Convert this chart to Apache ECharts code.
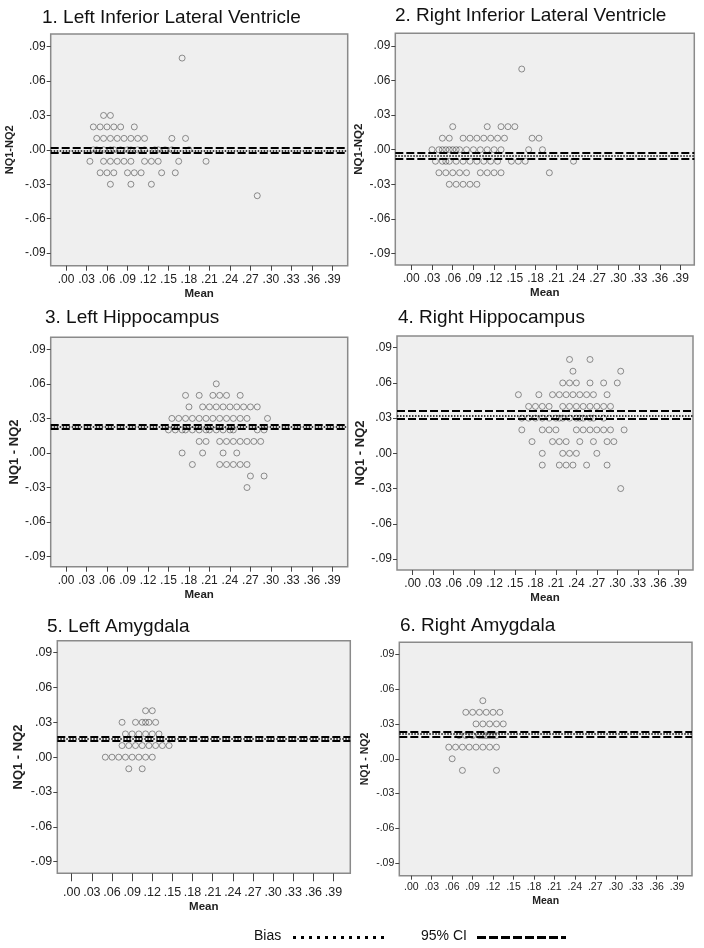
<!DOCTYPE html>
<html>
<head>
<meta charset="utf-8">
<script src="https://cdn.jsdelivr.net/npm/echarts@6/dist/echarts.min.js"></script>
<style>
html,body{margin:0;padding:0;background:#fff;}
#chart{width:704px;height:948px;}
</style>
</head>
<body>
<div id="chart"></div>
<script>
// ---------- DATA ----------
const titles = ['1. Left Inferior Lateral Ventricle', '2. Right Inferior Lateral Ventricle',
  '3. Left Hippocampus', '4. Right Hippocampus', '5. Left Amygdala', '6. Right Amygdala'];
const yNames = ['NQ1-NQ2', 'NQ1-NQ2', 'NQ1 - NQ2', 'NQ1 - NQ2', 'NQ1 - NQ2', 'NQ1 - NQ2'];
const xTicks = [0, 0.03, 0.06, 0.09, 0.12, 0.15, 0.18, 0.21, 0.24, 0.27, 0.30, 0.33, 0.36, 0.39];
const yTicks = [-0.09, -0.06, -0.03, 0, 0.03, 0.06, 0.09];

// [mean, difference] pairs
const leftILV = [
  [0.17, 0.08],
  [0.055, 0.03], [0.065, 0.03],
  [0.04, 0.02], [0.05, 0.02], [0.06, 0.02], [0.07, 0.02], [0.08, 0.02], [0.10, 0.02],
  [0.045, 0.01], [0.055, 0.01], [0.065, 0.01], [0.075, 0.01], [0.085, 0.01], [0.095, 0.01], [0.105, 0.01], [0.115, 0.01], [0.155, 0.01], [0.175, 0.01],
  [0.04, 0], [0.045, 0], [0.055, 0], [0.065, 0], [0.07, 0], [0.08, 0], [0.09, 0], [0.095, 0], [0.105, 0], [0.115, 0], [0.13, 0], [0.135, 0], [0.145, 0], [0.155, 0], [0.18, 0],
  [0.035, -0.01], [0.055, -0.01], [0.065, -0.01], [0.075, -0.01], [0.085, -0.01], [0.095, -0.01], [0.115, -0.01], [0.125, -0.01], [0.135, -0.01], [0.165, -0.01], [0.205, -0.01],
  [0.05, -0.02], [0.06, -0.02], [0.07, -0.02], [0.09, -0.02], [0.10, -0.02], [0.11, -0.02], [0.14, -0.02], [0.16, -0.02],
  [0.065, -0.03], [0.095, -0.03], [0.125, -0.03],
  [0.28, -0.04]
];
const rightILV = [
  [0.16, 0.07],
  [0.06, 0.02], [0.11, 0.02], [0.13, 0.02], [0.14, 0.02], [0.15, 0.02],
  [0.045, 0.01], [0.055, 0.01], [0.075, 0.01], [0.085, 0.01], [0.095, 0.01], [0.105, 0.01], [0.115, 0.01], [0.125, 0.01], [0.135, 0.01], [0.175, 0.01], [0.185, 0.01],
  [0.03, 0], [0.04, 0], [0.045, 0], [0.05, 0], [0.055, 0], [0.06, 0], [0.065, 0], [0.07, 0], [0.08, 0], [0.09, 0], [0.10, 0], [0.11, 0], [0.12, 0], [0.13, 0], [0.17, 0], [0.19, 0],
  [0.035, -0.01], [0.045, -0.01], [0.05, -0.01], [0.055, -0.01], [0.065, -0.01], [0.075, -0.01], [0.085, -0.01], [0.095, -0.01], [0.105, -0.01], [0.115, -0.01], [0.125, -0.01], [0.145, -0.01], [0.155, -0.01], [0.165, -0.01], [0.235, -0.01],
  [0.04, -0.02], [0.05, -0.02], [0.06, -0.02], [0.07, -0.02], [0.08, -0.02], [0.10, -0.02], [0.11, -0.02], [0.12, -0.02], [0.13, -0.02], [0.20, -0.02],
  [0.055, -0.03], [0.065, -0.03], [0.075, -0.03], [0.085, -0.03], [0.095, -0.03]
];
const leftHippo = [
  [0.22, 0.06],
  [0.175, 0.05], [0.195, 0.05], [0.215, 0.05], [0.225, 0.05], [0.235, 0.05], [0.255, 0.05],
  [0.18, 0.04], [0.20, 0.04], [0.21, 0.04], [0.22, 0.04], [0.23, 0.04], [0.24, 0.04], [0.25, 0.04], [0.26, 0.04], [0.27, 0.04], [0.28, 0.04],
  [0.155, 0.03], [0.165, 0.03], [0.175, 0.03], [0.185, 0.03], [0.195, 0.03], [0.205, 0.03], [0.215, 0.03], [0.225, 0.03], [0.235, 0.03], [0.245, 0.03], [0.255, 0.03], [0.265, 0.03], [0.295, 0.03],
  [0.15, 0.02], [0.16, 0.02], [0.17, 0.02], [0.175, 0.02], [0.185, 0.02], [0.195, 0.02], [0.205, 0.02], [0.21, 0.02], [0.22, 0.02], [0.23, 0.02], [0.24, 0.02], [0.245, 0.02], [0.28, 0.02], [0.29, 0.02],
  [0.195, 0.01], [0.205, 0.01], [0.225, 0.01], [0.235, 0.01], [0.245, 0.01], [0.255, 0.01], [0.265, 0.01], [0.275, 0.01], [0.285, 0.01],
  [0.17, 0], [0.20, 0], [0.23, 0], [0.25, 0],
  [0.185, -0.01], [0.225, -0.01], [0.235, -0.01], [0.245, -0.01], [0.255, -0.01], [0.265, -0.01],
  [0.27, -0.02], [0.29, -0.02],
  [0.265, -0.03]
];
const rightHippo = [
  [0.23, 0.08], [0.26, 0.08],
  [0.235, 0.07], [0.305, 0.07],
  [0.22, 0.06], [0.23, 0.06], [0.24, 0.06], [0.26, 0.06], [0.28, 0.06], [0.30, 0.06],
  [0.155, 0.05], [0.185, 0.05], [0.205, 0.05], [0.215, 0.05], [0.225, 0.05], [0.235, 0.05], [0.245, 0.05], [0.255, 0.05], [0.265, 0.05], [0.285, 0.05],
  [0.17, 0.04], [0.18, 0.04], [0.19, 0.04], [0.20, 0.04], [0.22, 0.04], [0.23, 0.04], [0.24, 0.04], [0.25, 0.04], [0.26, 0.04], [0.27, 0.04], [0.28, 0.04], [0.29, 0.04],
  [0.16, 0.03], [0.17, 0.03], [0.18, 0.03], [0.19, 0.03], [0.20, 0.03], [0.21, 0.03], [0.215, 0.03], [0.22, 0.03], [0.23, 0.03], [0.24, 0.03], [0.245, 0.03], [0.25, 0.03], [0.26, 0.03], [0.265, 0.03], [0.28, 0.03],
  [0.16, 0.02], [0.19, 0.02], [0.20, 0.02], [0.21, 0.02], [0.24, 0.02], [0.25, 0.02], [0.26, 0.02], [0.27, 0.02], [0.28, 0.02], [0.29, 0.02], [0.31, 0.02],
  [0.175, 0.01], [0.205, 0.01], [0.215, 0.01], [0.225, 0.01], [0.245, 0.01], [0.265, 0.01], [0.285, 0.01], [0.295, 0.01],
  [0.19, 0], [0.22, 0], [0.23, 0], [0.24, 0], [0.27, 0],
  [0.19, -0.01], [0.215, -0.01], [0.225, -0.01], [0.235, -0.01], [0.255, -0.01], [0.285, -0.01],
  [0.305, -0.03]
];
const leftAmyg = [
  [0.11, 0.04], [0.12, 0.04],
  [0.075, 0.03], [0.095, 0.03], [0.105, 0.03], [0.11, 0.03], [0.115, 0.03], [0.125, 0.03],
  [0.08, 0.02], [0.09, 0.02], [0.10, 0.02], [0.11, 0.02], [0.12, 0.02], [0.13, 0.02],
  [0.075, 0.01], [0.085, 0.01], [0.095, 0.01], [0.105, 0.01], [0.115, 0.01], [0.125, 0.01], [0.135, 0.01], [0.145, 0.01],
  [0.05, 0], [0.06, 0], [0.07, 0], [0.08, 0], [0.09, 0], [0.10, 0], [0.11, 0], [0.12, 0],
  [0.085, -0.01], [0.105, -0.01]
];
const rightAmyg = [
  [0.105, 0.05],
  [0.08, 0.04], [0.09, 0.04], [0.10, 0.04], [0.11, 0.04], [0.12, 0.04], [0.13, 0.04],
  [0.095, 0.03], [0.105, 0.03], [0.115, 0.03], [0.125, 0.03], [0.135, 0.03],
  [0.07, 0.02], [0.08, 0.02], [0.09, 0.02], [0.10, 0.02], [0.105, 0.02], [0.11, 0.02], [0.115, 0.02], [0.12, 0.02], [0.125, 0.02],
  [0.055, 0.01], [0.065, 0.01], [0.075, 0.01], [0.085, 0.01], [0.095, 0.01], [0.105, 0.01], [0.115, 0.01], [0.125, 0.01],
  [0.06, 0],
  [0.075, -0.01], [0.125, -0.01]
];
const panelPoints = [leftILV, rightILV, leftHippo, rightHippo, leftAmyg, rightAmyg];
const biasValues = [-0.0005, -0.0055, 0.0228, 0.0322, 0.016, 0.0212];
const ciUpper = [0.0018, -0.003, 0.0247, 0.0365, 0.0177, 0.0233];
const ciLower = [-0.0028, -0.008, 0.021, 0.0295, 0.0142, 0.019];

// ---------- LAYOUT (positions / styles) ----------
const layout = [
  {grid: [50.7, 34, 297, 231.7], x: [-0.0224, 0.4124], y: [-0.101, 0.101], title: [42, 8], fs: 12, nameFs: 11, yGap: 35, xGap: 22, tickLen: 5, labM: 8, meanFs: 11.5},
  {grid: [395.3, 33.3, 299, 231.7], x: [-0.0232, 0.410], y: [-0.100, 0.101], title: [395, 6], fs: 12, nameFs: 11.5, yGap: 30, xGap: 22, tickLen: 5, labM: 8, meanFs: 11.5},
  {grid: [50.7, 337.3, 297, 229.4], x: [-0.0224, 0.4124], y: [-0.0987, 0.1004], title: [45, 308], fs: 12, nameFs: 13, yGap: 30, xGap: 22, tickLen: 5, labM: 8, meanFs: 11.5},
  {grid: [397, 336, 296, 234], x: [-0.023, 0.411], y: [-0.0994, 0.1000], title: [398, 308], fs: 12, nameFs: 13, yGap: 30, xGap: 22, tickLen: 5, labM: 8, meanFs: 11.5},
  {grid: [57.3, 640.7, 293, 232.6], x: [-0.0215, 0.415], y: [-0.100, 0.1003], title: [47, 617], fs: 12.5, nameFs: 13, yGap: 32, xGap: 28, tickLen: 8, labM: 13, meanFs: 11.5},
  {grid: [399.3, 642.3, 292.7, 233.4], x: [-0.0176, 0.412], y: [-0.1007, 0.1003], title: [400, 616], fs: 10.5, nameFs: 10.5, yGap: 29, xGap: 20, tickLen: 4, labM: 6, meanFs: 10.5}
];

function fmt(v) {
  const s = Math.abs(v).toFixed(2).replace(/^0/, '');
  return (v < -1e-9 ? '-' : '') + s;
}

const FONT = 'Liberation Sans, Arial, sans-serif';
const grids = [], xAxes = [], yAxes = [], series = [], titleArr = [];

layout.forEach((L, i) => {
  grids.push({left: L.grid[0], top: L.grid[1], width: L.grid[2], height: L.grid[3],
    show: true, backgroundColor: '#efefef', borderColor: '#8a8a8a', borderWidth: 1.5, containLabel: false});
  titleArr.push({text: titles[i], left: L.title[0], top: L.title[1], padding: 0,
    textStyle: {fontFamily: FONT, fontSize: 19, fontWeight: 'normal', color: '#111'}});
  xAxes.push({type: 'value', gridIndex: i, min: L.x[0], max: L.x[1], position: 'bottom',
    name: 'Mean', nameLocation: 'middle', nameGap: L.xGap,
    nameTextStyle: {fontFamily: FONT, fontWeight: 'bold', fontSize: L.meanFs, color: '#222'},
    axisLine: {show: false, onZero: false}, splitLine: {show: false},
    axisTick: {show: true, customValues: xTicks, length: L.tickLen, lineStyle: {color: '#444'}},
    axisLabel: {customValues: xTicks, formatter: fmt, margin: L.labM, fontFamily: FONT, fontSize: L.fs, color: '#222'}
  });
  yAxes.push({type: 'value', gridIndex: i, min: L.y[0], max: L.y[1], position: 'left',
    name: yNames[i], nameLocation: 'middle', nameGap: L.yGap,
    nameTextStyle: {fontFamily: FONT, fontWeight: 'bold', fontSize: L.nameFs, color: '#222'},
    axisLine: {show: false, onZero: false}, splitLine: {show: false},
    axisTick: {show: true, customValues: yTicks, length: 4, lineStyle: {color: '#444'}},
    axisLabel: {customValues: yTicks, formatter: fmt, margin: 5, fontFamily: FONT, fontSize: L.fs, color: '#222'}
  });
  series.push({type: 'scatter', xAxisIndex: i, yAxisIndex: i, data: panelPoints[i],
    symbol: 'circle', symbolSize: 6, silent: true,
    itemStyle: {color: 'rgba(0,0,0,0)', borderColor: 'rgba(50,50,50,0.65)', borderWidth: 1},
    markLine: {silent: true, symbol: ['none', 'none'], label: {show: false}, animation: false, precision: 6,
      data: [
        {yAxis: ciUpper[i], lineStyle: {type: [8, 3], color: '#000', width: 2}},
        {yAxis: biasValues[i], lineStyle: {type: [1.5, 1.5], color: '#000', width: 1.5}},
        {yAxis: ciLower[i], lineStyle: {type: [8, 3], color: '#000', width: 2}}
      ]}
  });
});

const chart = echarts.init(document.getElementById('chart'), null, {renderer: 'canvas'});
chart.setOption({
  animation: false,
  backgroundColor: '#fff',
  title: titleArr,
  grid: grids, xAxis: xAxes, yAxis: yAxes, series: series,
  graphic: [
    {type: 'text', left: 254, top: 929, style: {text: 'Bias', fontFamily: FONT, fontSize: 14, fill: '#111'}},
    {type: 'line', shape: {x1: 293, y1: 937.5, x2: 386, y2: 937.5}, style: {stroke: '#000', lineWidth: 3, lineDash: [3, 5]}},
    {type: 'text', left: 421, top: 929, style: {text: '95% CI', fontFamily: FONT, fontSize: 14, fill: '#111'}},
    {type: 'line', shape: {x1: 477, y1: 937.5, x2: 566, y2: 937.5}, style: {stroke: '#000', lineWidth: 3, lineDash: [9, 3]}}
  ]
});
</script>
</body>
</html>
